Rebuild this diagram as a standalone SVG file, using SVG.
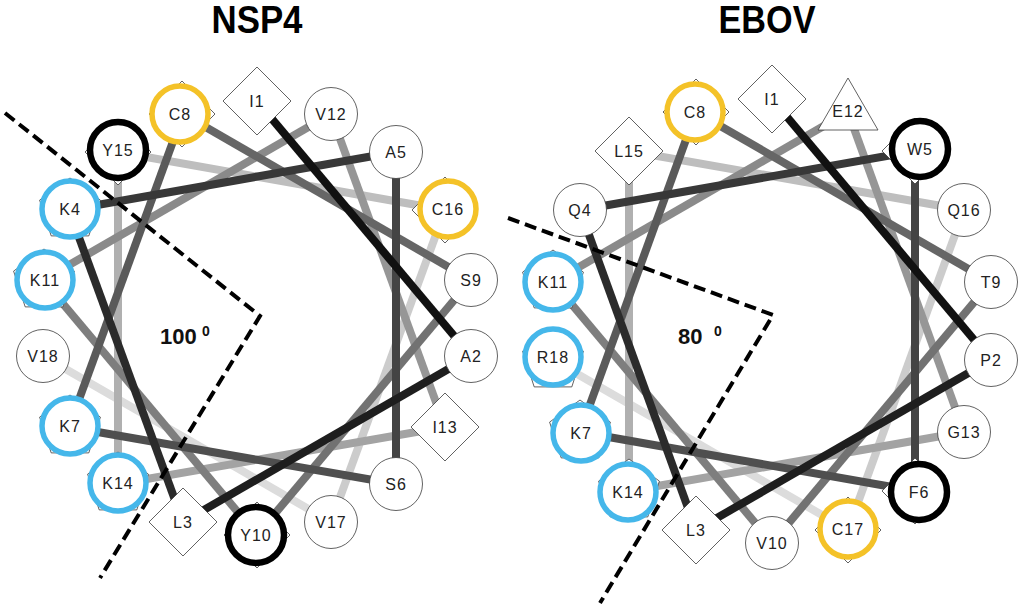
<svg xmlns="http://www.w3.org/2000/svg" width="1024" height="614" viewBox="0 0 1024 614">
<style>
.c{fill:none;stroke-width:8;stroke-linecap:butt}
.sh{fill:#fff;stroke:#3a3a3a;stroke-width:0.8}
.rb{fill:#fff;stroke:#45b7ea;stroke-width:5.5}
.ry{fill:#fff;stroke:#f4c228;stroke-width:5.5}
.rk{fill:#fff;stroke:#000;stroke-width:6.5}
.lbl{font-family:"Liberation Sans",Arial,sans-serif;font-size:16px;fill:#222;text-anchor:middle;letter-spacing:1px}
.ttl{font-family:"Liberation Sans",Arial,sans-serif;font-size:38px;font-weight:bold;fill:#000;text-anchor:middle}
.deg{font-family:"Liberation Sans",Arial,sans-serif;font-weight:bold;fill:#111}
.dash{fill:none;stroke:#000;stroke-width:4;stroke-dasharray:12 6}
</style>
<defs>
<path id="dia" class="sh" d="M0,-34 L34,0 L0,34 L-34,0Z"/>
<path id="dia2" class="sh" d="M0,-33 L33,0 L0,33 L-33,0Z"/>
<path id="pent" class="sh" d="M0,-32 L30.4,-9.9 L18.8,25.9 L-18.8,25.9 L-30.4,-9.9Z"/>
<circle id="cir" class="sh" r="26.5"/>
</defs>
<rect width="1024" height="614" fill="#fff"/>

<text class="ttl" x="257" y="33" textLength="91" lengthAdjust="spacingAndGlyphs">NSP4</text>
<text class="ttl" x="767" y="33" textLength="97" lengthAdjust="spacingAndGlyphs">EBOV</text>

<g id="connectors-nsp4">
<line class="c" stroke="#dcdcdc" x1="331" y1="522" x2="43" y2="356"/>
<line class="c" stroke="#cccccc" x1="445" y1="210" x2="331" y2="522"/>
<line class="c" stroke="#bebebe" x1="118" y1="152" x2="445" y2="210"/>
<line class="c" stroke="#b0b0b0" x1="118" y1="484" x2="118" y2="152"/>
<line class="c" stroke="#a3a3a3" x1="445" y1="427" x2="118" y2="484"/>
<line class="c" stroke="#969696" x1="331" y1="114" x2="445" y2="427"/>
<line class="c" stroke="#8a8a8a" x1="43" y1="280" x2="331" y2="114"/>
<line class="c" stroke="#7e7e7e" x1="257" y1="535" x2="43" y2="280"/>
<line class="c" stroke="#727272" x1="471" y1="280" x2="257" y2="535"/>
<line class="c" stroke="#666666" x1="183" y1="114" x2="471" y2="280"/>
<line class="c" stroke="#5a5a5a" x1="69" y1="427" x2="183" y2="114"/>
<line class="c" stroke="#4f4f4f" x1="396" y1="484" x2="69" y2="427"/>
<line class="c" stroke="#444444" x1="396" y1="152" x2="396" y2="484"/>
<line class="c" stroke="#383838" x1="69" y1="210" x2="396" y2="152"/>
<line class="c" stroke="#2b2b2b" x1="183" y1="522" x2="69" y2="210"/>
<line class="c" stroke="#1e1e1e" x1="471" y1="356" x2="183" y2="522"/>
<line class="c" stroke="#111111" x1="257" y1="101" x2="471" y2="356"/>
</g>

<g id="connectors-ebov">
<line class="c" stroke="#dcdcdc" x1="848" y1="530" x2="553" y2="360"/>
<line class="c" stroke="#cccccc" x1="964" y1="210" x2="848" y2="530"/>
<line class="c" stroke="#bebebe" x1="629" y1="151" x2="964" y2="210"/>
<line class="c" stroke="#b0b0b0" x1="629" y1="491" x2="629" y2="151"/>
<line class="c" stroke="#a3a3a3" x1="964" y1="432" x2="629" y2="491"/>
<line class="c" stroke="#969696" x1="848" y1="112" x2="964" y2="432"/>
<line class="c" stroke="#8a8a8a" x1="553" y1="282" x2="848" y2="112"/>
<line class="c" stroke="#7e7e7e" x1="772" y1="543" x2="553" y2="282"/>
<line class="c" stroke="#727272" x1="991" y1="282" x2="772" y2="543"/>
<line class="c" stroke="#666666" x1="696" y1="112" x2="991" y2="282"/>
<line class="c" stroke="#5a5a5a" x1="580" y1="432" x2="696" y2="112"/>
<line class="c" stroke="#4f4f4f" x1="915" y1="491" x2="580" y2="432"/>
<line class="c" stroke="#444444" x1="915" y1="151" x2="915" y2="491"/>
<line class="c" stroke="#383838" x1="580" y1="210" x2="915" y2="151"/>
<line class="c" stroke="#2b2b2b" x1="696" y1="530" x2="580" y2="210"/>
<line class="c" stroke="#1e1e1e" x1="991" y1="360" x2="696" y2="530"/>
<line class="c" stroke="#111111" x1="772" y1="99" x2="991" y2="360"/>
</g>

<!-- NSP4 nodes -->
<g id="nsp4-I1"><use href="#dia" x="257" y="101"/><text class="lbl" x="257" y="107">I1</text></g>
<g id="nsp4-A2"><use href="#cir" x="471" y="356"/><text class="lbl" x="471" y="362">A2</text></g>
<g id="nsp4-L3"><use href="#dia" x="183" y="522"/><text class="lbl" x="183" y="528">L3</text></g>
<g id="nsp4-K4"><use href="#pent" x="70" y="210"/><circle class="rb" cx="70" cy="209" r="28"/><text class="lbl" x="70" y="215">K4</text></g>
<g id="nsp4-A5"><use href="#cir" x="396" y="152"/><text class="lbl" x="396" y="158">A5</text></g>
<g id="nsp4-S6"><use href="#cir" x="396" y="484"/><text class="lbl" x="396" y="490">S6</text></g>
<g id="nsp4-K7"><use href="#pent" x="70" y="427"/><circle class="rb" cx="70" cy="426" r="28"/><text class="lbl" x="70" y="432">K7</text></g>
<g id="nsp4-C8"><use href="#dia2" x="182" y="114"/><circle class="ry" cx="180" cy="114" r="28"/><text class="lbl" x="180" y="120">C8</text></g>
<g id="nsp4-S9"><use href="#cir" x="471" y="280"/><text class="lbl" x="471" y="286">S9</text></g>
<g id="nsp4-Y10"><use href="#dia2" x="257" y="535"/><circle class="rk" cx="256" cy="535" r="28"/><text class="lbl" x="256" y="541">Y10</text></g>
<g id="nsp4-K11"><use href="#pent" x="44" y="281"/><circle class="rb" cx="45" cy="280" r="28"/><text class="lbl" x="45" y="286">K11</text></g>
<g id="nsp4-V12"><use href="#cir" x="331" y="114"/><text class="lbl" x="331" y="120">V12</text></g>
<g id="nsp4-I13"><use href="#dia" x="445" y="427"/><text class="lbl" x="445" y="433">I13</text></g>
<g id="nsp4-K14"><use href="#pent" x="118" y="484"/><circle class="rb" cx="118" cy="483" r="28"/><text class="lbl" x="118" y="489">K14</text></g>
<g id="nsp4-Y15"><use href="#dia2" x="118" y="152"/><circle class="rk" cx="118" cy="150" r="28"/><text class="lbl" x="118" y="156">Y15</text></g>
<g id="nsp4-C16"><use href="#dia2" x="445" y="210"/><circle class="ry" cx="448" cy="209" r="28"/><text class="lbl" x="448" y="215">C16</text></g>
<g id="nsp4-V17"><use href="#cir" x="331" y="522"/><text class="lbl" x="331" y="528">V17</text></g>
<g id="nsp4-V18"><use href="#cir" x="43" y="356"/><text class="lbl" x="43" y="362">V18</text></g>

<!-- EBOV nodes -->
<g id="ebov-I1"><use href="#dia" x="772" y="99"/><text class="lbl" x="772" y="105">I1</text></g>
<g id="ebov-P2"><use href="#cir" x="991" y="360"/><text class="lbl" x="991" y="366">P2</text></g>
<g id="ebov-L3"><use href="#dia" x="696" y="530"/><text class="lbl" x="696" y="536">L3</text></g>
<g id="ebov-Q4"><use href="#cir" x="580" y="210"/><text class="lbl" x="580" y="216">Q4</text></g>
<g id="ebov-W5"><use href="#dia2" x="915" y="151"/><circle class="rk" cx="920" cy="149" r="28"/><text class="lbl" x="920" y="155">W5</text></g>
<g id="ebov-F6"><use href="#dia2" x="915" y="491"/><circle class="rk" cx="919" cy="492" r="28"/><text class="lbl" x="919" y="498">F6</text></g>
<g id="ebov-K7"><use href="#pent" x="580" y="432"/><circle class="rb" cx="581" cy="433" r="28"/><text class="lbl" x="581" y="439">K7</text></g>
<g id="ebov-C8"><use href="#dia2" x="696" y="112"/><circle class="ry" cx="695" cy="112" r="28"/><text class="lbl" x="695" y="118">C8</text></g>
<g id="ebov-T9"><use href="#cir" x="991" y="282"/><text class="lbl" x="991" y="288">T9</text></g>
<g id="ebov-V10"><use href="#cir" x="772" y="543"/><text class="lbl" x="772" y="549">V10</text></g>
<g id="ebov-K11"><use href="#pent" x="553" y="282"/><circle class="rb" cx="553" cy="282" r="28"/><text class="lbl" x="553" y="288">K11</text></g>
<g id="ebov-E12"><path class="sh" d="M848,78 L878,130 L818,130Z"/><text class="lbl" x="848" y="117">E12</text></g>
<g id="ebov-G13"><use href="#cir" x="964" y="432"/><text class="lbl" x="964" y="438">G13</text></g>
<g id="ebov-K14"><use href="#pent" x="629" y="491"/><circle class="rb" cx="628" cy="492" r="28"/><text class="lbl" x="628" y="498">K14</text></g>
<g id="ebov-L15"><use href="#dia" x="629" y="151"/><text class="lbl" x="629" y="157">L15</text></g>
<g id="ebov-Q16"><use href="#cir" x="964" y="210"/><text class="lbl" x="964" y="216">Q16</text></g>
<g id="ebov-C17"><use href="#dia2" x="848" y="530"/><circle class="ry" cx="848" cy="529" r="28"/><text class="lbl" x="848" y="535">C17</text></g>
<g id="ebov-R18"><use href="#pent" x="553" y="361"/><circle class="rb" cx="553" cy="357" r="28"/><text class="lbl" x="553" y="363">R18</text></g>

<g id="angles">
<path class="dash" d="M5,113 L260,316 L100,578"/>
<path class="dash" d="M508,218 L773,315 L600,603"/>
<text class="deg" x="160" y="344" font-size="22">100</text>
<text class="deg" x="202" y="336" font-size="14">0</text>
<text class="deg" x="678" y="344" font-size="22">80</text>
<text class="deg" x="714" y="336" font-size="14">0</text>
</g>
</svg>
